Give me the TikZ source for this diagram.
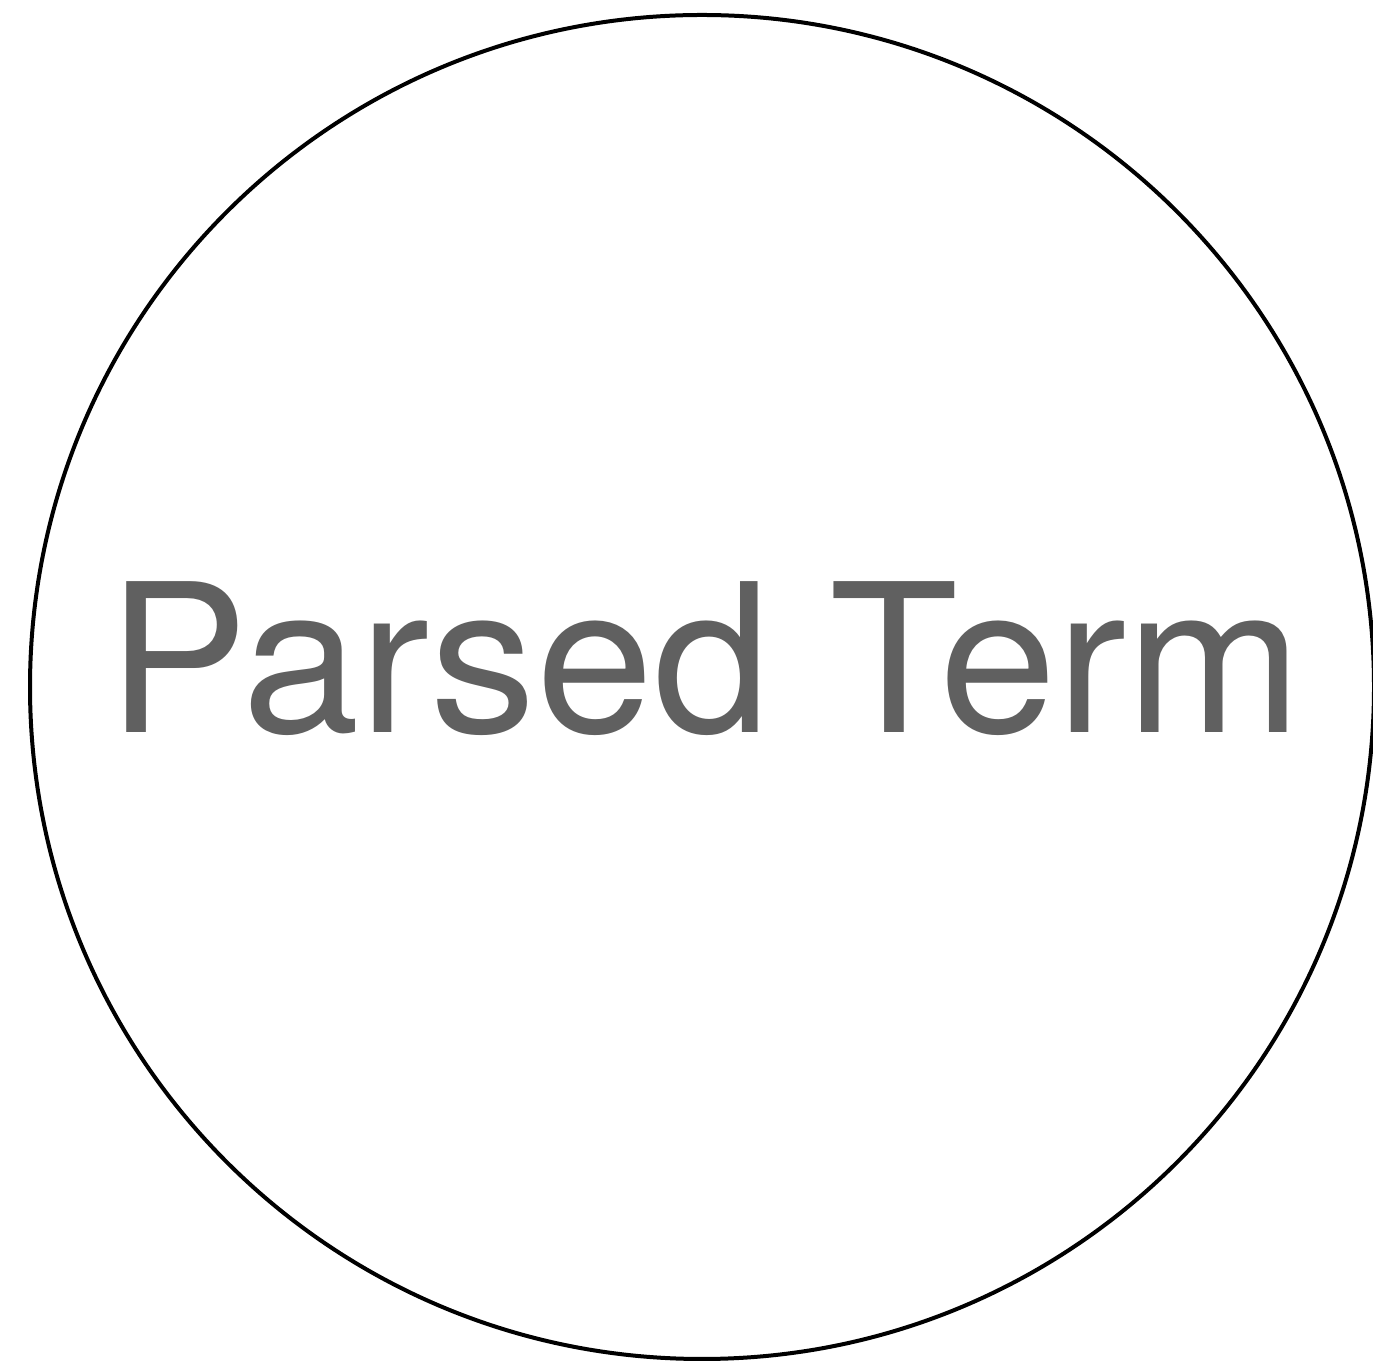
\documentclass[tikz,border=0pt]{standalone}
\usepackage{fontspec}
\setmainfont{TeX Gyre Heros}
\definecolor{txtgray}{HTML}{606060}
\begin{document}
\begin{tikzpicture}[x=1pt,y=1pt,
  termcircle/.style={circle,draw=black,line width=4pt,minimum size=1344pt,inner sep=0pt},
  termlabel/.style={text=txtgray,font=\fontsize{207}{207}\selectfont,inner sep=0pt,anchor=base,xscale=1.02}]
\useasboundingbox (0,0) rectangle (1373,1362);
\node[termcircle] (c) at (702,675) {};
\node[termlabel] (t) at (705,629.3) {Parsed Term};
\end{tikzpicture}
\end{document}
